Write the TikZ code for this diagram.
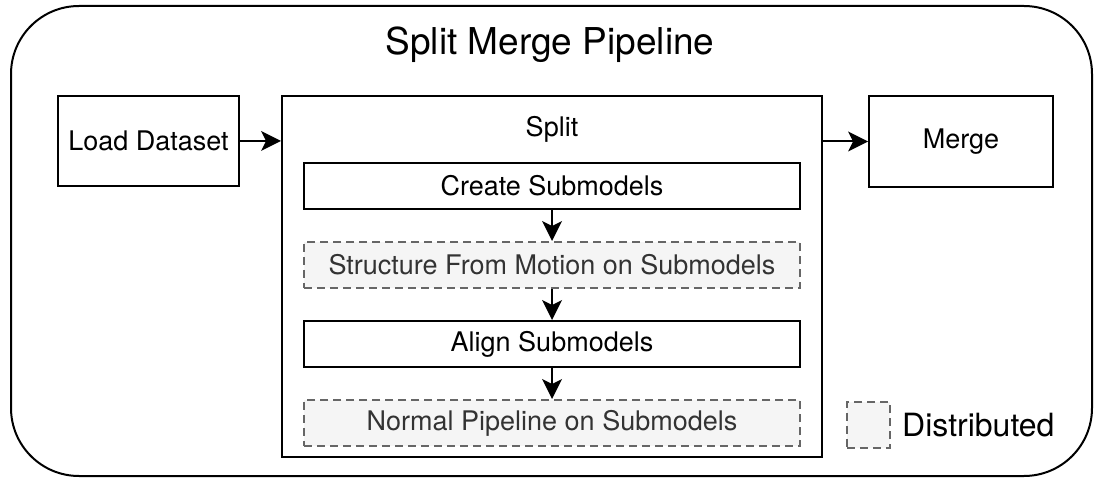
\documentclass[tikz,border=0pt]{standalone}
\usepackage{fontspec}
\setmainfont{TeX Gyre Heros}
\usetikzlibrary{arrows.meta}
\definecolor{dashgray}{HTML}{666666}
\definecolor{dashfill}{HTML}{F5F5F5}
\definecolor{dashtext}{HTML}{333333}
\tikzset{
  box/.style={draw=black, line width=2pt, fill=white, inner sep=0pt, font=\fontsize{27}{32}\selectfont},
  distbox/.style={draw=dashgray, line width=2pt, fill=dashfill, dash pattern=on 8pt off 5pt, inner sep=0pt, text=dashtext, font=\fontsize{27}{32}\selectfont},
  inner/.style={minimum width=496pt, minimum height=46pt},
  arr/.style={line width=2pt, -{Stealth[length=20pt, width=20pt, inset=5pt, line width=0pt]}},
  lbl/.style={inner sep=0pt, font=\fontsize{27}{32}\selectfont},
}
\begin{document}
\begin{tikzpicture}[x=1pt, y=-1pt]
\useasboundingbox (0,0) rectangle (1096,478);
% outer container
\node[draw=black, line width=2pt, rounded corners=68pt, minimum width=1081pt, minimum height=470pt, inner sep=0pt] (outer) at (551.5,241) {};
\node[lbl, font=\fontsize{37}{44}\selectfont] (title) at (550,45) {Split Merge Pipeline};
% left and right boxes
\node[box, minimum width=181pt, minimum height=90pt] (load) at (148.5,141) {Load Dataset};
\node[box, minimum width=540pt, minimum height=361pt] (split) at (552,276.5) {};
\node[lbl] (splitlbl) at (552,129) {Split};
\node[box, minimum width=184pt, minimum height=91pt] (merge) at (961,141.5) {Merge};
% inner steps
\node[box, inner] (create) at (552,186) {Create Submodels};
\node[distbox, inner] (sfm) at (552,265) {Structure From Motion on Submodels};
\node[box, inner] (align) at (552,344) {Align Submodels};
\node[distbox, inner] (normal) at (552,423) {Normal Pipeline on Submodels};
% legend
\node[distbox, minimum width=43pt, minimum height=46pt] (legend) at (868.5,425) {};
\node[lbl, anchor=west, font=\fontsize{32}{38}\selectfont] (legendlbl) at (902,425) {Distributed};
% connectors
\draw[arr] (load.east) -- (load.east -| split.west);
\draw[arr] (merge.west -| split.east) -- (merge.west);
\draw[arr] (create) -- (sfm);
\draw[arr] (sfm) -- (align);
\draw[arr] (align) -- (normal);
\end{tikzpicture}
\end{document}
